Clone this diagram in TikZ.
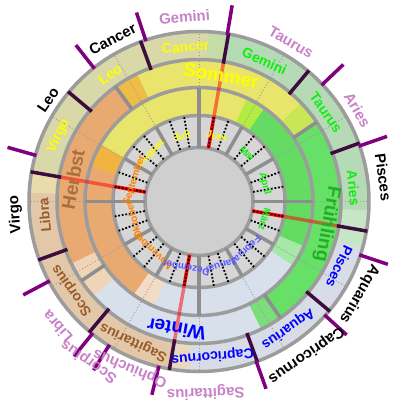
\documentclass[tikz,border=0pt]{standalone}
\usepackage{fontspec}
\setmainfont{Liberation Sans}
% ring colours
\definecolor{ringgray}{HTML}{9C9C9C}
\definecolor{spokegray}{HTML}{8E8E8E}
\definecolor{dotgray}{HTML}{9A9A9A}
\definecolor{darkpurp}{HTML}{3C0C3E}
\definecolor{purp}{HTML}{800080}
\definecolor{oblue}{HTML}{D8DCE6}
\definecolor{olgreen}{HTML}{C6E6C6}
\definecolor{ogreen}{HTML}{B6DAB6}
\definecolor{otrans}{HTML}{C4DCA8}
\definecolor{okhaki}{HTML}{D8D8A8}
\definecolor{opale}{HTML}{E8DCAC}
\definecolor{otan}{HTML}{E2C8A8}
\definecolor{oltan}{HTML}{EAD8C0}
\definecolor{sygreen}{HTML}{C8E656}
\definecolor{syellow}{HTML}{E8E46C}
\definecolor{sorangeb}{HTML}{F0BC48}
\definecolor{sorange}{HTML}{E9AA72}
\definecolor{stan}{HTML}{F0D4B8}
\definecolor{sblue}{HTML}{D8E0EC}
\definecolor{slgreen}{HTML}{7ADE7A}
\definecolor{sgreen}{HTML}{66E066}
\definecolor{ilgreen}{HTML}{A6E8A6}
\definecolor{igreen}{HTML}{64DC64}
\definecolor{iygreen}{HTML}{B4EC44}
\definecolor{iorangeb}{HTML}{F2B440}
\definecolor{itan}{HTML}{F2DCC6}
\definecolor{monthbg}{HTML}{D6D6D6}
\definecolor{diskc}{HTML}{CFCFCF}
% text colours
\definecolor{tyellow}{HTML}{FFFF00}
\definecolor{tgreen}{HTML}{11EE11}
\definecolor{tbrown}{HTML}{9A5A28}
\definecolor{tblue}{HTML}{0000FF}
\definecolor{morange}{HTML}{FF7F00}
\definecolor{mblue}{HTML}{5A5AFF}
\definecolor{herbstc}{HTML}{A8703E}
\definecolor{fruehc}{HTML}{22B022}
\definecolor{pinkc}{HTML}{C882C8}
\newcommand\ringsec[5]{\fill[#1] (#4:#2) arc[start angle=#4,end angle=#5,radius=#2] -- (#5:#3) arc[start angle=#5,end angle=#4,radius=#3] -- cycle;}
\begin{document}
\begin{tikzpicture}[
  ringline/.style={draw=ringgray, line width=3.5pt},
  spoke/.style={draw=spokegray, line width=3.5pt},
  thindot/.style={draw=dotgray, line width=0.9pt, dash pattern=on 1pt off 2pt},
  blackdot/.style={draw=black, line width=1.8pt, dash pattern=on 1.8pt off 1.8pt},
  zodiacline/.style={draw=darkpurp, line width=3.5pt},
  consttick/.style={draw=purp, line width=3.5pt},
  seasonred/.style={draw=red, line width=3.5pt, draw opacity=0.5},
  monthred/.style={draw=red, line width=3.5pt},
  ringlbl/.style={font=\bfseries\fontsize{14pt}{16pt}\selectfont, inner sep=0pt},
  outlbl/.style={font=\bfseries\fontsize{15pt}{17pt}\selectfont, inner sep=0pt},
  monthlbl/.style={font=\bfseries\fontsize{10pt}{12pt}\selectfont, inner sep=0pt},
  seasonlbl/.style={font=\bfseries\fontsize{19pt}{21pt}\selectfont, inner sep=0pt}
]
\useasboundingbox (-199pt,-203.5pt) rectangle (198pt,201.5pt);
\fill[white] (-199pt,-203.5pt) rectangle (198pt,201.5pt);

% outer (zodiac) ring
\ringsec{oblue}{142pt}{170pt}{266}{344.6}
\ringsec{olgreen}{142pt}{170pt}{344}{357.6}
\ringsec{ogreen}{142pt}{170pt}{357}{440.6}
\ringsec{otrans}{142pt}{170pt}{80}{87.6}
\ringsec{okhaki}{142pt}{170pt}{87}{170.6}
\ringsec{opale}{142pt}{170pt}{170}{177.6}
\ringsec{otan}{142pt}{170pt}{177}{260.6}
\ringsec{oltan}{142pt}{170pt}{260}{266.6}

% season ring
\ringsec{sygreen}{114pt}{142pt}{34}{44.6}
\ringsec{syellow}{114pt}{142pt}{44}{116.6}
\ringsec{sorangeb}{114pt}{142pt}{116}{126.6}
\ringsec{sorange}{114pt}{142pt}{126}{206.6}
\ringsec{stan}{114pt}{142pt}{206}{222.6}
\ringsec{sblue}{114pt}{142pt}{222}{296.6}
\ringsec{slgreen}{114pt}{142pt}{296}{305.6}
\ringsec{sgreen}{114pt}{142pt}{305}{394.6}

% inner (meteorological) band
\ringsec{ilgreen}{86pt}{114pt}{325}{337.6}
\ringsec{igreen}{86pt}{114pt}{337}{415.6}
\ringsec{iygreen}{86pt}{114pt}{55}{65.6}
\ringsec{syellow}{86pt}{114pt}{65}{150.6}
\ringsec{iorangeb}{86pt}{114pt}{150}{162.6}
\ringsec{sorange}{86pt}{114pt}{162}{235.6}
\ringsec{itan}{86pt}{114pt}{235}{247.6}
\ringsec{sblue}{86pt}{114pt}{247}{325.6}

% month ring and disk
\fill[monthbg] (0,0) circle[radius=86pt];
\fill[diskc] (0,0) circle[radius=54pt];

% thin dotted month boundaries
\foreach \a in {30,60,...,330,360} \draw[thindot] (\a:86pt) -- (\a:170pt);

% ring borders
\foreach \r in {54pt,86pt,114pt,142pt,170pt} \draw[ringline] (0,0) circle[radius=\r];

% spokes
\foreach \a in {34,126,214,305} \draw[spoke] (\a:114pt) -- (\a:142pt);
\foreach \a in {30,60,120,150,210,240,300,330} \draw[spoke] (\a:54pt) -- (\a:86pt);
\foreach \a in {0,90,180,270} \draw[spoke] (\a:54pt) -- (\a:114pt);

% equinox / solstice lines
\foreach \a in {-10,80,170,260} {
  \draw[monthred] (\a:54pt) -- (\a:86pt);
  \draw[seasonred] (\a:86pt) -- (\a:142pt);
}
% black dotted lines in the month ring
\foreach \a in {10,20,40,50,70,80,100,110,130,140,160,170,190,200,220,230,250,260,280,290,310,320,340,350}
  \draw[blackdot] (\a:55pt) -- (\a:86pt);

% tropical sign boundaries
\foreach \a in {20,50,...,350} \draw[zodiacline] (\a:140pt) -- (\a:171pt);

% constellation boundaries outside
\foreach \a in {19.1,43.5,80.4,108.3,128.2,164.2,208,231.1,238,256.3,289.7,317.9,341.6}
  \draw[consttick] (\a:169pt) -- (\a:199pt);

% tropical sign labels
\foreach \ang/\txt/\col [evaluate=\ang as \rot using \ang-90, count=\i] in
  {5/Aries/tgreen, 35/Taurus/tgreen, 65/Gemini/tgreen,
   95/Cancer/tyellow, 125/Leo/tyellow, 155/Virgo/tyellow,
   185/Libra/tbrown, 215/Scorpius/tbrown, 245/Sagittarius/tbrown,
   275/Capricornus/tblue, 305/Aquarius/tblue, 335/Pisces/tblue}
  \node[ringlbl, text=\col, rotate=\rot] (z\i) at (\ang:155pt) {\txt};

% season labels
\node[seasonlbl, text=tyellow, rotate=-10] (sommer) at (80:128pt) {Sommer};
\node[seasonlbl, text=herbstc, rotate=80] (herbst) at (170:128pt) {Herbst};
\node[seasonlbl, text=tblue, rotate=170] (winter) at (260:130pt) {Winter};
\node[seasonlbl, text=fruehc, rotate=260] (fruehling) at (350:130pt) {Frühling};

% month labels
\foreach \ang/\txt/\col [evaluate=\ang as \rot using \ang-90, count=\i] in
  {15/April/tgreen, 45/Mai/tgreen, 75/Juni/tyellow, 105/Juli/tyellow,
   135/August/tyellow, 162/September/morange, 196/Oktober/morange,
   227/November/morange, 259/Dezember/mblue, 289/Januar/mblue,
   314/Februar/mblue, 345/März/tgreen}
  \node[monthlbl, text=\col, rotate=\rot] (m\i) at (\ang:68pt) {\txt};

% constellation labels outside
\foreach \ang/\rad/\txt/\col [evaluate=\ang as \rot using \ang-90, count=\i] in
  {118/184/Cancer/black, 146/182/Leo/black, 184/184/Virgo/black,
   305/187/Capricornus/black, 330/185/Aquarius/black, 7.5/186/Pisces/black,
   94.5/185/Gemini/pinkc, 60/184/Taurus/pinkc, 30/183/Aries/pinkc,
   221.5/189/Libra/pinkc, 235.5/194/Scorpius/pinkc, 247.5/180/Ophiuchus/pinkc,
   272/191/Sagittarius/pinkc}
  \node[outlbl, text=\col, rotate=\rot] (c\i) at (\ang:\rad pt) {\txt};
\end{tikzpicture}
\end{document}
